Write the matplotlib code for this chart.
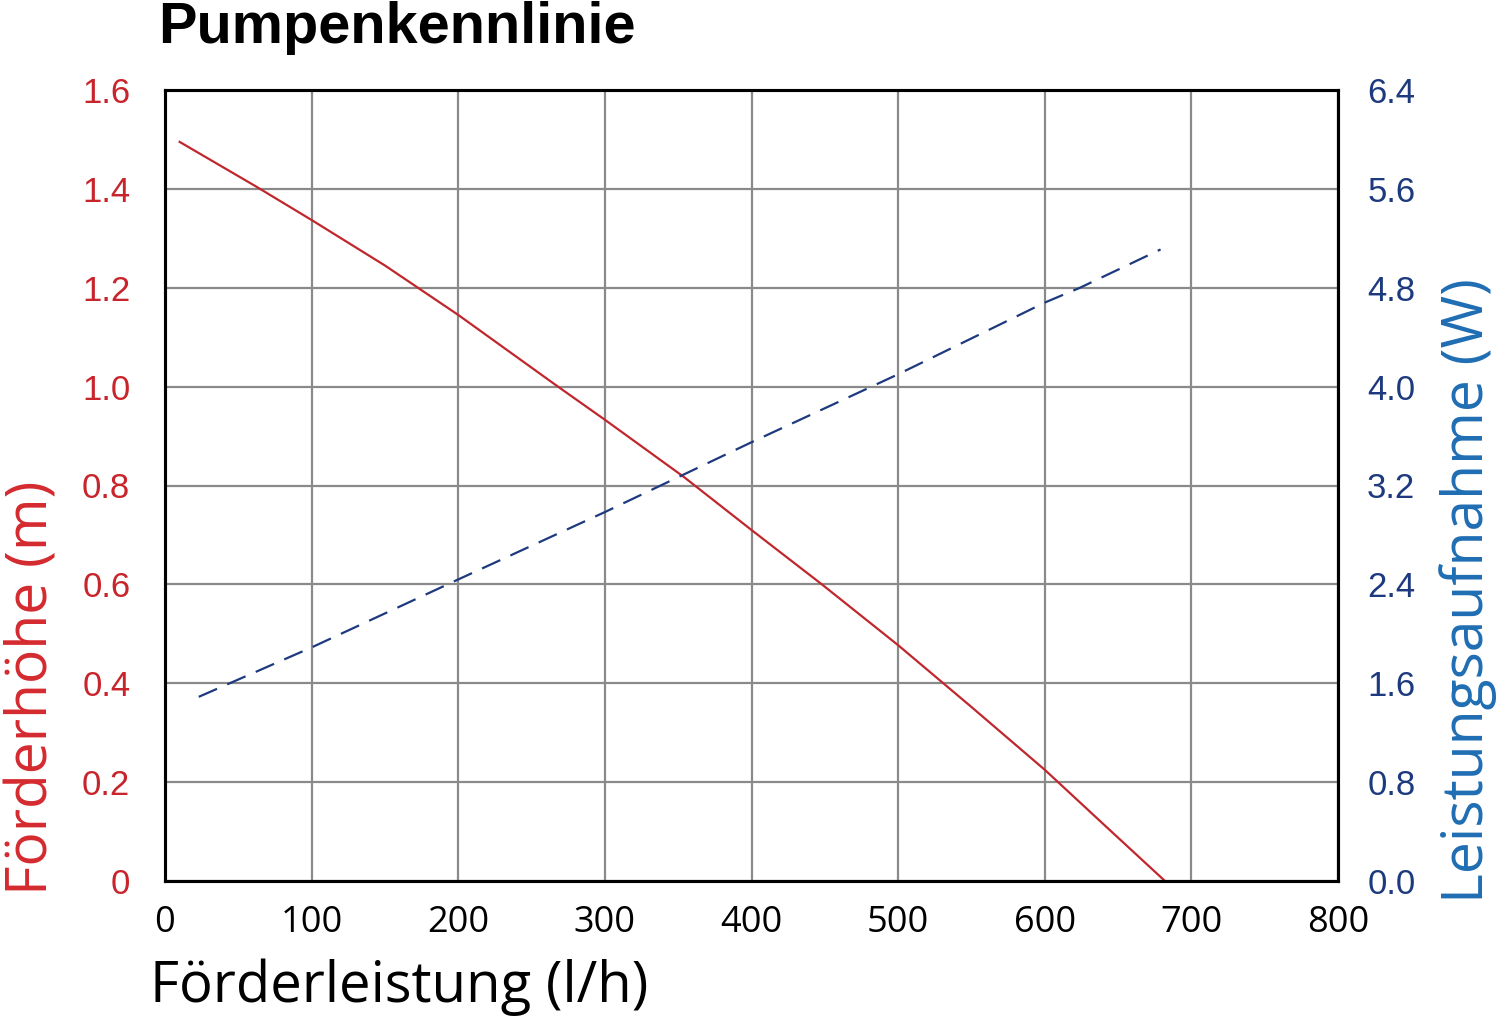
import matplotlib
matplotlib.use("Agg")
import matplotlib.pyplot as plt
import numpy as np

# Pumpenkennlinie: Förderhöhe (links) und Leistungsaufnahme (rechts)
hoehe_x = [10, 62, 100, 150, 200, 268, 300, 354, 400, 448, 500, 550, 600, 640, 682]
hoehe_y = [1.495, 1.405, 1.337, 1.245, 1.145, 1.0, 0.933, 0.817, 0.71, 0.60, 0.477, 0.352, 0.225, 0.115, 0.0]

leistung_x = [23, 100, 200, 300, 400, 500, 600, 624, 679]
leistung_y = [1.49, 1.89, 2.44, 2.985, 3.55, 4.10, 4.68, 4.80, 5.11]

x_ticks = [0, 100, 200, 300, 400, 500, 600, 700, 800]
left_ticks = [0, 0.2, 0.4, 0.6, 0.8, 1.0, 1.2, 1.4, 1.6]
left_labels = ['0', '0.2', '0.4', '0.6', '0.8', '1.0', '1.2', '1.4', '1.6']
right_ticks = [0.0, 0.8, 1.6, 2.4, 3.2, 4.0, 4.8, 5.6, 6.4]

RED = '#c8242b'
LINE_RED = '#c0272d'
BLUE = '#1d3a7e'
LABEL_BLUE = '#1f6db3'
tick_font = 'Liberation Sans'
label_font = 'Open Sans'

W, H = 1500, 1018
fig = plt.figure(figsize=(W / 100, H / 100), dpi=100)
ax = fig.add_axes([165 / W, 1 - 881 / H, (1338 - 165) / W, (881 - 90) / H])
ax2 = ax.twinx()

ax.plot(hoehe_x, hoehe_y, color=LINE_RED, lw=1.6)
l2, = ax2.plot(leistung_x, leistung_y, color=BLUE, lw=1.6)
l2.set_dashes((9, 5))

ax.set_xlim(0, 800)
ax.set_ylim(0, 1.6)
ax2.set_ylim(0, 6.4)

ax.set_xticks(x_ticks)
ax.set_xticklabels([str(v) for v in x_ticks], fontfamily=label_font, fontsize=26)
ax.set_yticks(left_ticks)
ax.set_yticklabels(left_labels, fontfamily=tick_font, fontsize=25, color=RED)
ax2.set_yticks(right_ticks)
ax2.set_yticklabels(['%.1f' % v for v in right_ticks], fontfamily=tick_font, fontsize=25, color=BLUE)

ax.tick_params(axis='x', length=0, pad=17)
ax.tick_params(axis='y', length=0, pad=25)
ax2.tick_params(axis='y', length=0, pad=21)

ax.grid(True, color='#8a8a8a', lw=1.6)
ax.set_axisbelow(True)
for a in (ax, ax2):
    for sp in a.spines.values():
        sp.set_linewidth(2.2)
        sp.set_color('black')

# Achsentitel
fig.text(150 / W, 1 - 1002 / H, 'Förderleistung (l/h)', fontfamily=label_font, fontsize=40.5,
         color='black', ha='left', va='baseline')
fig.text(47 / W, 1 - 895 / H, 'Förderhöhe (m)', fontfamily=label_font, fontsize=41,
         color='#d42a2f', ha='left', va='baseline', rotation=90, rotation_mode='anchor')
fig.text(1483 / W, 1 - 903 / H, 'Leistungsaufnahme (W)', fontfamily=label_font, fontsize=41,
         color=LABEL_BLUE, ha='left', va='baseline', rotation=90, rotation_mode='anchor')

fig.text(158 / W, 1 - 43 / H, 'Pumpenkennlinie', fontfamily=tick_font, fontweight='bold',
         fontsize=41.5, ha='left', va='baseline')

fig.savefig('out.png', dpi=100, facecolor='white')
